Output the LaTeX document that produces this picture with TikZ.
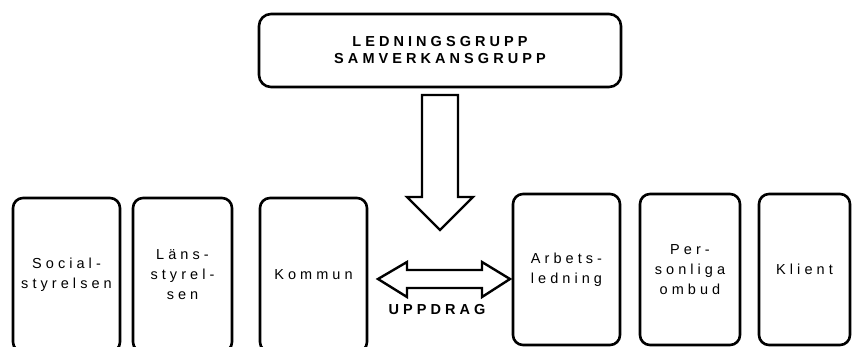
\documentclass[tikz,border=0pt]{standalone}
\usepackage{fontspec}
\setmainfont{Liberation Sans}
\newfontfamily\spaced[LetterSpace=28]{Liberation Sans}

\begin{document}
\begin{tikzpicture}[x=1pt,y=-1pt,
  box/.style={draw,line width=2.6pt,rounded corners=10pt,align=center,inner sep=0pt,
    font=\spaced\fontsize{14.5}{20}\selectfont},
  blockarrow/.style={draw,line width=2.4pt,line join=miter}]
\useasboundingbox (0,0) rectangle (853,347);
\clip (0,0) rectangle (853,347);
% Top group
\node[box,rounded corners=12pt,minimum width=362pt,minimum height=73pt,font=\spaced\bfseries\fontsize{14.5}{17}\selectfont]
  (ledning) at (440,50.5) {LEDNINGSGRUPP\\SAMVERKANSGRUPP};
% Left boxes
\node[box,minimum width=107pt,minimum height=154pt] (social) at (66.5,275) {Social-\\styrelsen};
\node[box,minimum width=99pt,minimum height=154pt] (lans) at (182.5,275) {Läns-\\styrel-\\sen};
\node[box,minimum width=107pt,minimum height=154pt] (kommun) at (313.5,275) {Kommun};
% Right boxes
\node[box,align=left,minimum width=107pt,minimum height=151pt] (arbets) at (566.5,269.5) {Arbets-\\ledning};
\node[box,minimum width=100pt,minimum height=151pt] (ombud) at (690,269.5) {Per-\\sonliga\\ombud};
\node[box,minimum width=91pt,minimum height=151pt] (klient) at (804.5,269.5) {Klient};
% Down arrow
\draw[blockarrow] (422,95) -- (458,95) -- (458,197) -- (473,197) -- (440,230)
  -- (407,197) -- (422,197) -- cycle;
% Double arrow
\draw[blockarrow] (378,279) -- (407,262) -- (407,270) -- (482,270) -- (482,262) -- (510,279)
  -- (482,297) -- (482,288) -- (407,288) -- (407,297) -- cycle;
\node[font=\spaced\bfseries\fontsize{14.5}{17}\selectfont] (uppdrag) at (437,310) {UPPDRAG};
\end{tikzpicture}
\end{document}
